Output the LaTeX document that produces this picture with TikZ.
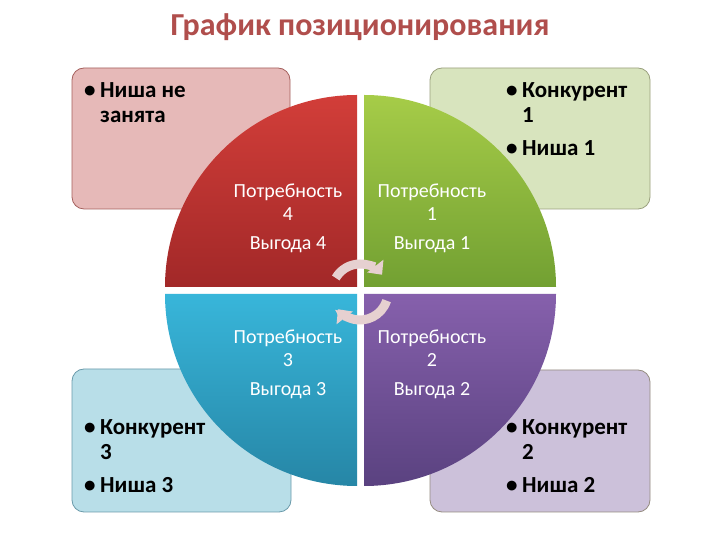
\documentclass[tikz,border=0pt]{standalone}
\usepackage{fontspec}
\setmainfont{Carlito}
\usetikzlibrary{arrows.meta}
\definecolor{titlec}{HTML}{B04E4C}
\definecolor{boxTL}{HTML}{E6B9B8}
\definecolor{boxTR}{HTML}{D8E4BE}
\definecolor{boxBL}{HTML}{B8DEE8}
\definecolor{boxBR}{HTML}{CCC1DA}
\definecolor{lineTL}{HTML}{A5605D}
\definecolor{lineTR}{HTML}{9AA07E}
\definecolor{lineBL}{HTML}{6A9AAA}
\definecolor{lineBR}{HTML}{958C80}
\definecolor{redT}{HTML}{D23E39}
\definecolor{redB}{HTML}{A22828}
\definecolor{grnT}{HTML}{A6CC48}
\definecolor{grnB}{HTML}{72A032}
\definecolor{bluT}{HTML}{38B6DA}
\definecolor{bluB}{HTML}{2686A6}
\definecolor{purT}{HTML}{8660AC}
\definecolor{purB}{HTML}{5A4280}
\definecolor{arrc}{HTML}{E6D0D0}
\newcommand{\bul}{\makebox[16pt][l]{•}}
\newcommand{\ind}{\hspace*{16pt}}
\tikzset{
  infobox/.style={rounded corners=12pt, line width=0.8pt},
  boxtext/.style={anchor=base west, inner sep=0pt, font=\fontsize{23}{25}\selectfont\bfseries, text=black},
  quadtext/.style={anchor=base, inner sep=0pt, font=\fontsize{20}{23}\selectfont, text=white},
  cyc/.style={draw=arrc, line width=9pt, -{Triangle[width=20pt,length=11pt]}}
}
\begin{document}
\begin{tikzpicture}[x=1pt,y=1pt]
\useasboundingbox (0,0) rectangle (720,540);
\fill[white] (0,0) rectangle (720,540);
% title
\node[anchor=base, font=\fontsize{32}{36}\selectfont\bfseries, text=titlec, inner sep=0pt] (title) at (360,504) {График позиционирования};
% boxes
\draw[infobox, fill=boxTL, draw=lineTL] (72,472) rectangle (290,331);
\draw[infobox, fill=boxTR, draw=lineTR] (430,472) rectangle (650,331);
\draw[infobox, fill=boxBL, draw=lineBL] (72,171) rectangle (291,28);
\draw[infobox, fill=boxBR, draw=lineBR] (430,170) rectangle (650,28);
% quadrants
\shade[top color=redT, bottom color=redB] (357,253) -- (165,253) arc[start angle=180, end angle=90, radius=192] -- cycle;
\shade[top color=grnT, bottom color=grnB] (364,253) -- (364,445) arc[start angle=90, end angle=0, radius=192] -- cycle;
\shade[top color=bluT, bottom color=bluB] (357,246) -- (357,54) arc[start angle=270, end angle=180, radius=192] -- cycle;
\shade[top color=purT, bottom color=purB] (364,246) -- (556,246) arc[start angle=0, end angle=-90, radius=192] -- cycle;
% quadrant texts
\node[quadtext] (q4) at (288,342) {\begin{tabular}[t]{@{}c@{}}Потребность\\4\\[6pt]Выгода 4\end{tabular}};
\node[quadtext] (q1) at (432,342) {\begin{tabular}[t]{@{}c@{}}Потребность\\1\\[6pt]Выгода 1\end{tabular}};
\node[quadtext] (q3) at (288,196) {\begin{tabular}[t]{@{}c@{}}Потребность\\3\\[6pt]Выгода 3\end{tabular}};
\node[quadtext] (q2) at (432,196) {\begin{tabular}[t]{@{}c@{}}Потребность\\2\\[6pt]Выгода 2\end{tabular}};
% box texts
\node[boxtext] (t4) at (84,442) {\begin{tabular}[t]{@{}l@{}}\bul Ниша не\\\ind занята\end{tabular}};
\node[boxtext] (t1) at (506,442) {\begin{tabular}[t]{@{}l@{}}\bul Конкурент\\\ind 1\\[8pt]\bul Ниша 1\end{tabular}};
\node[boxtext] (t3) at (84,105) {\begin{tabular}[t]{@{}l@{}}\bul Конкурент\\\ind 3\\[8pt]\bul Ниша 3\end{tabular}};
\node[boxtext] (t2) at (506,105) {\begin{tabular}[t]{@{}l@{}}\bul Конкурент\\\ind 2\\[8pt]\bul Ниша 2\end{tabular}};
% center cycle arrows
\coordinate (cc) at (360,248);
\draw[cyc] ([shift={(150:28)}]cc) arc[start angle=150, end angle=38, radius=28];
\draw[cyc] ([shift={(342:28)}]cc) arc[start angle=342, end angle=218, radius=28];
\end{tikzpicture}
\end{document}
